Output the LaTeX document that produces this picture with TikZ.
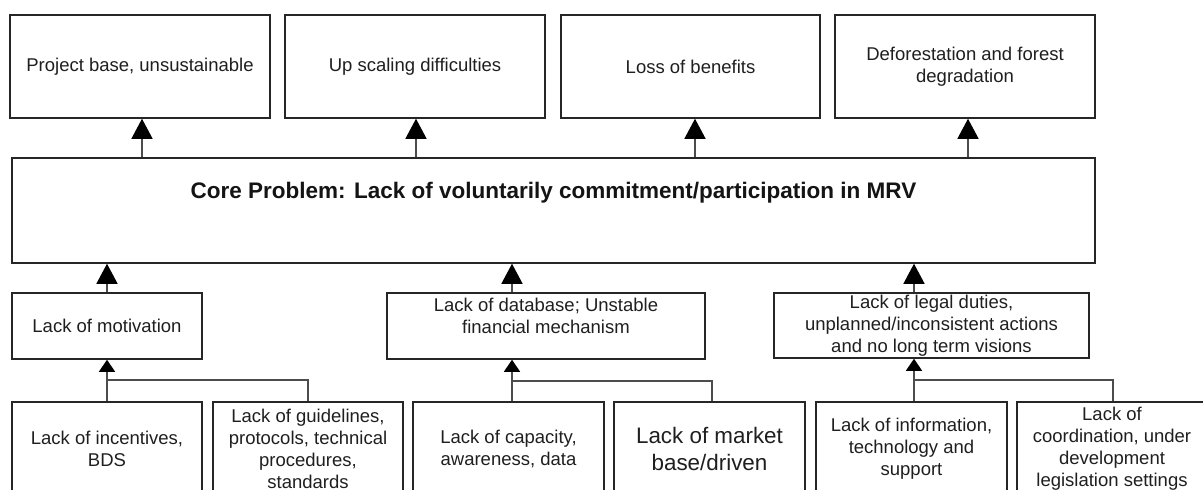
\documentclass[tikz,border=0pt]{standalone}
\usepackage{fontspec}
\setmainfont{Liberation Sans}
\usetikzlibrary{arrows.meta,calc}
\begin{document}
\begin{tikzpicture}[x=1pt,y=-1pt,
  box/.style={draw=black!85, line width=1.5pt, rectangle, inner sep=0pt, align=center, text=black!88, font=\fontsize{18.5}{22}\selectfont},
  txt/.style={inner sep=0pt, align=center, text=black!88, font=\fontsize{18.5}{22}\selectfont},
  conn/.style={draw=black!70, line width=1.3pt},
  bigarr/.style={conn, -{Triangle[width=21pt,length=20pt,color=black]}},
  smallarr/.style={conn, -{Triangle[width=16pt,length=12pt,color=black]}}
]
\useasboundingbox (0,0) rectangle (1203,490);
\clip (0,0) rectangle (1203,490);
\fill[white] (0,0) rectangle (1203,490);

% top effect boxes
\node[box, minimum width=260pt, minimum height=103pt] (t1) at (140,66.5) {Project base, unsustainable};
\node[box, minimum width=260pt, minimum height=103pt] (t2) at (415,66.5) {Up scaling difficulties};
\node[box, minimum width=259pt, minimum height=103pt] (t3) at (690.5,66.5) {Loss of benefits};
\node[box, minimum width=260pt, minimum height=103pt] (t4) at (965,66.5) {Deforestation and forest\\degradation};

% core problem
\node[box, minimum width=1083pt, minimum height=105pt] (core) at (553.5,210.5) {};
\node[txt, font=\bfseries\fontsize{22.5}{27}\selectfont, text=black!92] (coretext) at (553.5,193) {Core Problem: Lack of voluntarily commitment/participation in MRV};

% middle causes
\node[box, minimum width=190pt, minimum height=66pt] (m1) at (107,326) {Lack of motivation};
\node[box, minimum width=318pt, minimum height=66pt] (m2) at (546,326) {};
\node[txt, anchor=north] (m2text) at (546,297.5) {Lack of database; Unstable\\financial mechanism};
\node[box, minimum width=315pt, minimum height=65pt] (m3) at (931.5,325.5) {Lack of legal duties,\\unplanned/inconsistent actions\\and no long term visions};

% bottom causes
\node[box, minimum width=190pt, minimum height=94pt] (A) at (107,449) {Lack of incentives,\\BDS};
\node[box, minimum width=190pt, minimum height=94pt] (B) at (308,449) {Lack of guidelines,\\protocols, technical\\procedures,\\standards};
\node[box, minimum width=191pt, minimum height=94pt] (C) at (508.5,449) {Lack of capacity,\\awareness, data};
\node[box, minimum width=191pt, minimum height=94pt, font=\fontsize{22.4}{27}\selectfont] (D) at (709.5,449) {Lack of market\\base/driven};
\node[box, minimum width=191pt, minimum height=94pt] (E) at (911.5,449) {Lack of information,\\technology and\\support};
\node[box, minimum width=190pt, minimum height=94pt] (F) at (1112,449) {Lack of\\coordination, under\\development\\legislation settings};

% connector x positions and junctions
\coordinate (a1) at (142,0);
\coordinate (a2) at (416,0);
\coordinate (a3) at (695,0);
\coordinate (a4) at (968,0);
\coordinate (a6) at (512,0);
\coordinate (a7) at (914,0);
\coordinate (b2) at (712,0);
\coordinate (b3) at (1113,0);
\coordinate (j1) at (107,380);
\coordinate (j2) at (512,381);
\coordinate (j3) at (914,380);

% core -> effects
\draw[bigarr] (core.north -| a1) -- (t1.south -| a1);
\draw[bigarr] (core.north -| a2) -- (t2.south -| a2);
\draw[bigarr] (core.north -| a3) -- (t3.south -| a3);
\draw[bigarr] (core.north -| a4) -- (t4.south -| a4);

% middle -> core
\draw[bigarr] (m1.north) -- (core.south -| m1.north);
\draw[bigarr] (m2.north -| a6) -- (core.south -| a6);
\draw[bigarr] (m3.north -| a7) -- (core.south -| a7);

% bottom -> middle
\draw[smallarr] (A.north) -- (m1.south);
\draw[conn] (B.north) |- (j1);
\draw[smallarr] (C.north -| a6) -- (m2.south -| a6);
\draw[conn] (D.north -| b2) |- (j2);
\draw[smallarr] (E.north -| a7) -- (m3.south -| a7);
\draw[conn] (F.north -| b3) |- (j3);
\end{tikzpicture}
\end{document}
